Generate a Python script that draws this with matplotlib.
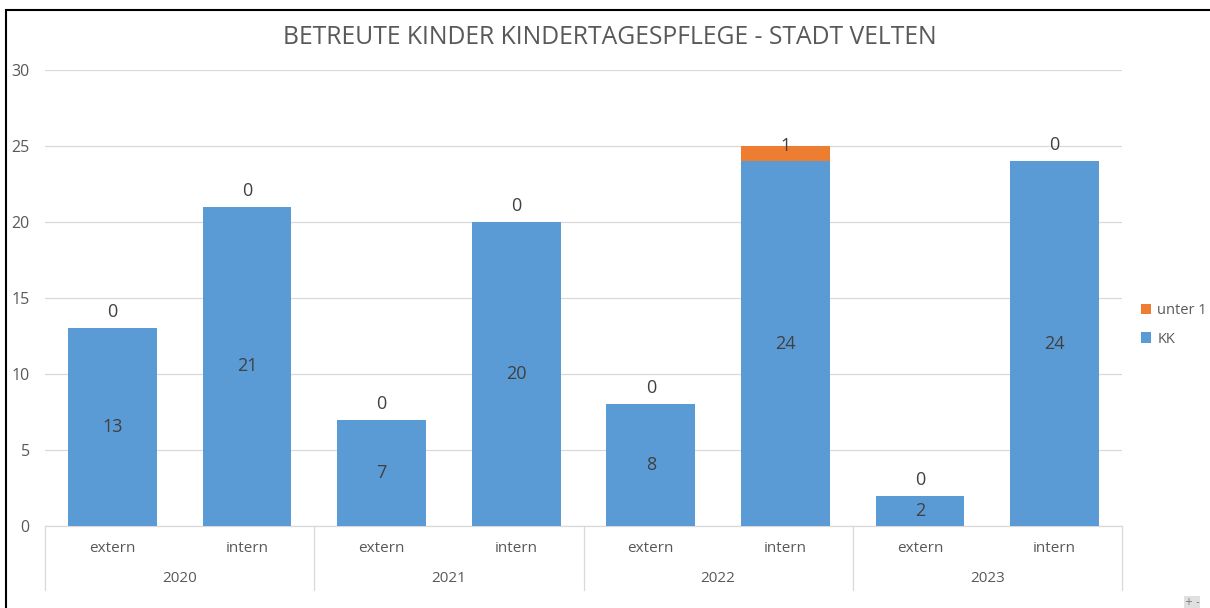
import matplotlib
matplotlib.use("Agg")
import matplotlib.pyplot as plt
from matplotlib.patches import Patch, Rectangle
import numpy as np

plt.rcParams['font.family'] = ['Open Sans', 'DejaVu Sans']

years = ["2020", "2021", "2022", "2023"]
categories = ["extern", "intern", "extern", "intern", "extern", "intern", "extern", "intern"]
kk = [13, 21, 7, 20, 8, 24, 2, 24]
unter1 = [0, 0, 0, 0, 0, 1, 0, 0]
title = "BETREUTE KINDER KINDERTAGESPFLEGE - STADT VELTEN"

BLUE = "#5B9BD5"
ORANGE = "#ED7D31"
GRID = "#D9D9D9"
TXT = "#595959"
LBL = "#404040"

W, H = 1210, 608
fig = plt.figure(figsize=(W / 100, H / 100), dpi=100)
ax = fig.add_axes([45 / W, 1 - 526 / H, (1122 - 45) / W, (526 - 70) / H])

x = np.arange(len(categories))
bw = 0.66
b1 = ax.bar(x, kk, width=bw, color=BLUE, zorder=3)
b2 = ax.bar(x, unter1, width=bw, bottom=kk, color=ORANGE, zorder=3)

ax.set_xlim(-0.5, len(categories) - 0.5)
ax.set_ylim(0, 30)
ax.set_yticks([0, 5, 10, 15, 20, 25, 30])
ax.yaxis.grid(True, color=GRID, linewidth=0.9, zorder=0)
ax.set_axisbelow(True)
for s in ["top", "right", "left"]:
    ax.spines[s].set_visible(False)
ax.spines["bottom"].set_color(GRID)
ax.spines["bottom"].set_linewidth(0.9)
ax.tick_params(axis="y", length=0, pad=11, labelsize=11.5, labelcolor=TXT)
ax.tick_params(axis="x", length=0)
ax.set_xticks([])
for lab in ax.get_yticklabels():
    lab.set_horizontalalignment("right")

# data labels
for xi, v in zip(x, kk):
    ax.text(xi, v / 2, str(v), ha="center", va="center", fontsize=13, color=LBL, zorder=4)
for xi, k, u in zip(x, kk, unter1):
    top = k + u
    if u > 0:
        ax.text(xi, top, str(u), ha="center", va="center", fontsize=13, color=LBL, zorder=4)
    else:
        ax.annotate(str(u), (xi, top), xytext=(0, 11.5), textcoords="offset points",
                    ha="center", va="center", fontsize=13, color=LBL)

# category axis (two-level)
tr = ax.get_xaxis_transform()
for xi, c in zip(x, categories):
    ax.text(xi, -(548 - 526) / 456, c, transform=tr, ha="center", va="center",
            fontsize=11, color=TXT)
for gi, yr in enumerate(years):
    ax.text(2 * gi + 0.5, -(579 - 526) / 456, yr, transform=tr, ha="center", va="center",
            fontsize=11, color=TXT)
for b in np.arange(-0.5, len(categories), 2):
    ax.plot([b, b], [0, -(590 - 526) / 456], transform=tr, color=GRID, lw=0.9, clip_on=False)

fig.text(0.5 * (280 + 940) / W, 1 - 38 / H, title, ha="center", va="center",
         fontsize=17.8, color=TXT)

handles = [Patch(facecolor=ORANGE, label="unter 1"), Patch(facecolor=BLUE, label="KK")]
fig.legend(handles=handles, loc="center left", bbox_to_anchor=(1128 / W, 1 - 325 / H),
           frameon=False, fontsize=10.5, labelcolor=TXT, handlelength=0.7, handleheight=0.7,
           handletextpad=0.4, labelspacing=0.9)

# outer frame
fig.add_artist(Rectangle((6 / W, -0.05), 1.1, 1 - 10 / H + 0.05, transform=fig.transFigure,
                         fill=False, edgecolor="black", linewidth=1.5))
fig.text(1192 / W, 1 - 602 / H, "+ -", ha="center", va="center", fontsize=7, color="#777777",
         family="DejaVu Sans",
         bbox=dict(facecolor="#E0E0E0", edgecolor="none", pad=0.5))

fig.savefig("out.png", dpi=100)
